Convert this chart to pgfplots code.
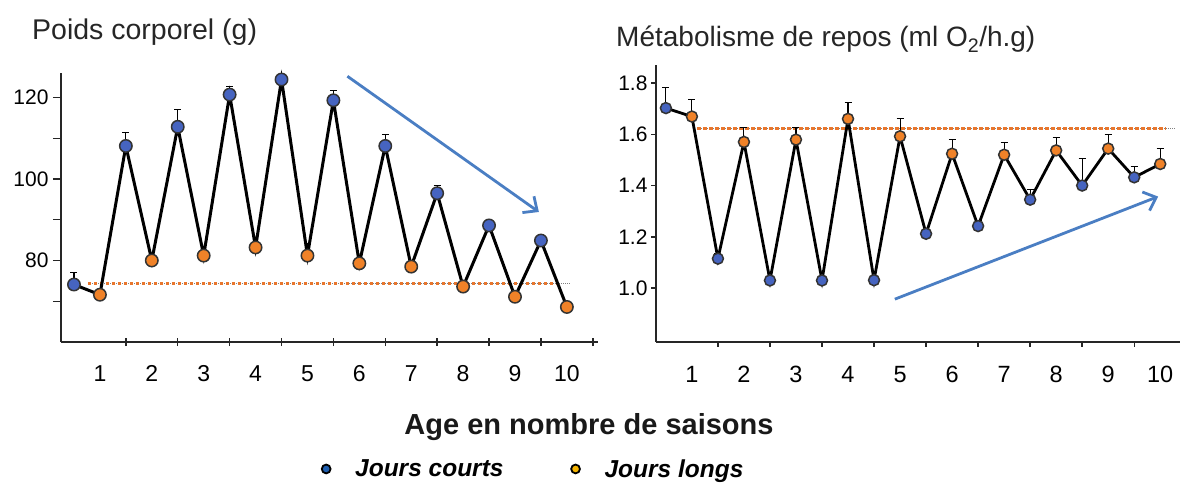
\documentclass[border=0pt]{standalone}
\usepackage{graphicx}
\usepackage{pgfplots}
\pgfplotsset{compat=1.18}
\usepackage{pgfplotstable}
\usetikzlibrary{arrows.meta}
\usepackage{fontspec}
\setmainfont{Liberation Sans}

\definecolor{cblue}{HTML}{4664C0}
\definecolor{corange}{HTML}{F08228}
\definecolor{carrow}{HTML}{4A7EC3}
\definecolor{cdash}{HTML}{E8762D}
\definecolor{lgblue}{HTML}{1F5FB0}
\definecolor{lgyellow}{HTML}{F5B400}

\pgfplotstableread{
x y e
0.5 74.1 2.9
1.0 71.6 0
1.5 108.1 3.2
2.0 80.0 0.5
2.5 112.8 4.2
3.0 81.2 0.5
3.5 120.7 2.0
4.0 83.2 0.5
4.5 124.4 0.8
5.0 81.2 3.0
5.5 119.3 2.5
6.0 79.3 0.5
6.5 108.1 2.8
7.0 78.5 0.5
7.5 96.5 1.8
8.0 73.6 0
8.5 88.6 1.0
9.0 71.1 0
9.5 84.9 1.3
10.0 68.6 0
}\leftall
\pgfplotstableread{
x y
0.5 74.1
1.5 108.1
2.5 112.8
3.5 120.7
4.5 124.4
5.5 119.3
6.5 108.1
7.5 96.5
8.5 88.6
9.5 84.9
}\leftblue
\pgfplotstableread{
x y
1.0 71.6
2.0 80.0
3.0 81.2
4.0 83.2
5.0 81.2
6.0 79.3
7.0 78.5
8.0 73.6
9.0 71.1
10.0 68.6
}\leftorange

\pgfplotstableread{
x y e
0.5 1.702 0.081
1.0 1.669 0.065
1.5 1.115 0.02
2.0 1.570 0.058
2.5 1.030 0.01
3.0 1.579 0.049
3.5 1.030 0.01
4.0 1.660 0.064
4.5 1.031 0.01
5.0 1.592 0.068
5.5 1.212 0
6.0 1.524 0.055
6.5 1.242 0.02
7.0 1.520 0.048
7.5 1.345 0.039
8.0 1.537 0.052
8.5 1.400 0.104
9.0 1.544 0.054
9.5 1.432 0.043
10.0 1.484 0.060
}\rightall
\pgfplotstableread{
x y
0.5 1.702
1.5 1.115
2.5 1.030
3.5 1.030
4.5 1.031
5.5 1.212
6.5 1.242
7.5 1.345
8.5 1.400
9.5 1.432
}\rightblue
\pgfplotstableread{
x y
1.0 1.669
2.0 1.570
3.0 1.579
4.0 1.660
5.0 1.592
6.0 1.524
7.0 1.520
8.0 1.537
9.0 1.544
10.0 1.484
}\rightorange

\pgfplotsset{
  panel/.style={
    scale only axis, clip=false,
    axis x line*=bottom, axis y line*=left,
    axis line style={line width=1.7bp, black!85, -},
    tick style={line width=1.4bp, black!85},
    major tick length=5bp,
    xtick={1.5,2.5,...,10.5}, xticklabels={},
    extra x ticks={1,2,3,4,5,6,7,8,9,10},
    extra x tick labels={1,2,3,4,5,6,7,8,9,10},
    extra x tick style={major tick length=0pt},
    ytick align=outside,
  },
  errb/.style={draw=none, forget plot, error bars/.cd, y dir=plus, y explicit,
    error mark=-,
    error bar style={draw=black, solid, line width=1.1bp},
    error mark options={rotate=90, draw=black, solid, line width=1.1bp, mark size=3.5bp}},
}

\begin{document}
\begin{tikzpicture}
\path[use as bounding box] (0,0) rectangle (1180bp,483bp);

% ---------------- left panel ----------------
\begin{axis}[panel,
  at={(61bp,141bp)}, anchor=south west,
  width=537bp, height=269bp,
  xmin=0.25, xmax=10.6, ymin=60, ymax=126,
  xtick align=center, major tick length=8bp,
  ytick={70,80,90,100,110,120},
  yticklabels={,80,,100,,120},
  yticklabel style={font=\fontsize{21bp}{21bp}\selectfont, xshift=-1bp},
  xticklabel style={font=\fontsize{23bp}{23bp}\selectfont, yshift=-20bp},
  legend style={at={(0.4767,-0.472)}, anchor=west, draw=none, fill=none,
    legend columns=2, font=\fontsize{24.5bp}{24.5bp}\selectfont\bfseries\itshape,
    /tikz/every even column/.append style={column sep=64bp}},
  legend cell align=left,
]
\addplot[gray, densely dotted, line width=1bp, forget plot] coordinates {(0.77,74.4) (10.05,74.4)};
\addplot[cdash, line width=3bp, dash pattern=on 3.5bp off 2.5bp, forget plot] coordinates {(0.77,74.4) (9.9,74.4)};
\addplot[errb] table[x=x, y=y, y error=e] {\leftall};
\addplot[black, line width=3bp, mark=none, forget plot] table[x=x, y=y] {\leftall};
\addplot[only marks, mark=*, mark size=6.2bp, forget plot,
  mark options={fill=cblue, draw=black!80, line width=1.5bp}] table[x=x, y=y] {\leftblue};
\addplot[only marks, mark=*, mark size=6.2bp, forget plot,
  mark options={fill=corange, draw=black!80, line width=1.5bp}] table[x=x, y=y] {\leftorange};
\draw[carrow, line width=2.8bp, -{Straight Barb[length=11bp, width=20bp, line width=2.8bp]}]
  (axis cs:5.77,125.2) -- (axis cs:9.46,91.9);

\addlegendimage{legend image code/.code={\path[draw=none] (-6bp,0) -- (27bp,0); \draw[fill=lgblue, draw=black, line width=1.8bp] (0,0) circle (4.4bp);}}
\addlegendentry{Jours courts}
\addlegendimage{legend image code/.code={\path[draw=none] (-6bp,0) -- (27bp,0); \draw[fill=lgyellow, draw=black, line width=1.8bp] (0,0) circle (4.4bp);}}
\addlegendentry{Jours longs}
\end{axis}

% ---------------- right panel ----------------
\begin{axis}[panel,
  at={(656bp,141bp)}, anchor=south west,
  width=524bp, height=277bp,
  xmin=0.31, xmax=10.38, ymin=0.79, ymax=1.87,
  xtick align=outside,
  ytick={1.0,1.2,1.4,1.6,1.8},
  yticklabels={1.0,1.2,1.4,1.6,1.8},
  yticklabel style={font=\fontsize{21bp}{21bp}\selectfont},
  xticklabel style={font=\fontsize{23.5bp}{23.5bp}\selectfont, yshift=-21bp},
]
\addplot[gray, densely dotted, line width=1bp] coordinates {(1.1,1.624) (10.3,1.624)};
\addplot[cdash, line width=3bp, dash pattern=on 3.5bp off 2.5bp] coordinates {(1.1,1.624) (10.1,1.624)};
\addplot[errb] table[x=x, y=y, y error=e] {\rightall};
\addplot[black, line width=2.8bp, mark=none] table[x=x, y=y] {\rightall};
\addplot[only marks, mark=*, mark size=5.5bp,
  mark options={fill=cblue, draw=black!80, line width=1.5bp}] table[x=x, y=y] {\rightblue};
\addplot[only marks, mark=*, mark size=5.5bp,
  mark options={fill=corange, draw=black!80, line width=1.5bp}] table[x=x, y=y] {\rightorange};
\draw[carrow, line width=2.8bp, -{Straight Barb[length=11bp, width=20bp, line width=2.8bp]}]
  (axis cs:4.9,0.957) -- (axis cs:9.96,1.357);
\end{axis}

% ---------------- texts ----------------
\node[anchor=base west, inner sep=0, font=\fontsize{28.5bp}{30bp}\selectfont, text=black!85]
  at (32bp,443bp) {Poids corporel (g)};
\node[anchor=base west, inner sep=0, font=\fontsize{28bp}{30bp}\selectfont, text=black!85]
  at (616bp,436bp) {Métabolisme de repos (ml O\textsubscript{2}/h.g)};
\node[anchor=base, inner sep=0, font=\fontsize{29bp}{30bp}\selectfont\bfseries, text=black!90]
  at (589bp,48bp) {Age en nombre de saisons};
\end{tikzpicture}
\end{document}
